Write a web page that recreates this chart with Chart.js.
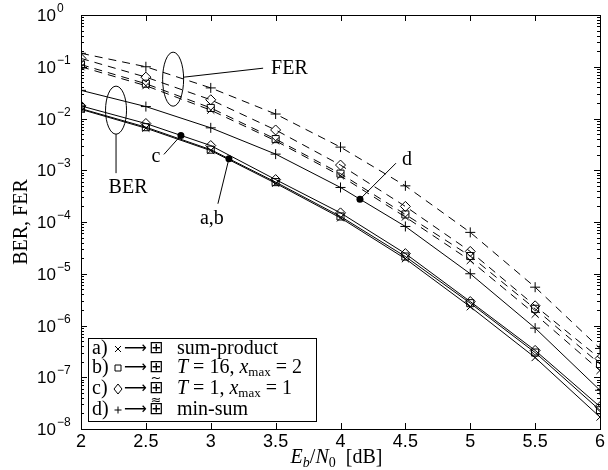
<!DOCTYPE html>
<html>
<head>
<meta charset="utf-8">
<script src="https://cdn.jsdelivr.net/npm/chart.js@4.4.1/dist/chart.umd.min.js"></script>
<style>
  html, body { margin: 0; padding: 0; background: #fff; }
  #wrap { width: 608px; height: 470px; }
</style>
</head>
<body>
<div id="wrap"><canvas id="chart" width="608" height="470"></canvas></div>
<script>
// Eb/N0 in dB
const ebn0 = [2, 2.5, 3, 3.5, 4, 4.5, 5, 5.5, 6];

// BER curves (solid)
const berA = [0.0150, 0.0065, 0.0024, 5.6e-4, 1.2e-4, 1.95e-5, 2.3e-6, 2.4e-7, 1.7e-8];
const berB = [0.0155, 0.0068, 0.0025, 5.9e-4, 1.28e-4, 2.15e-5, 2.7e-6, 3.0e-7, 2.3e-8];
const berC = [0.0175, 0.0080, 0.0030, 6.6e-4, 1.5e-4, 2.45e-5, 2.9e-6, 3.3e-7, 2.7e-8];
const berD = [0.0350, 0.0170, 0.0066, 2.05e-3, 4.65e-4, 8.2e-5, 1.0e-5, 8.9e-7, 5.6e-8];

// FER curves (dashed)
const ferA = [0.100, 0.043, 0.0145, 3.7e-3, 7.8e-4, 1.25e-4, 1.8e-5, 1.65e-6, 1.35e-7];
const ferB = [0.110, 0.047, 0.0160, 4.0e-3, 8.6e-4, 1.4e-4, 2.2e-5, 2.1e-6, 1.8e-7];
const ferC = [0.145, 0.063, 0.0230, 6.0e-3, 1.26e-3, 2.0e-4, 2.7e-5, 2.4e-6, 2.3e-7];
const ferD = [0.182, 0.100, 0.0390, 1.22e-2, 2.8e-3, 5.0e-4, 6.3e-5, 5.5e-6, 3.6e-7];

// y tick labels are 10^e
const yExponents = [0, -1, -2, -3, -4, -5, -6, -7, -8];

const legendLabels = ['a)', 'b)', 'c)', 'd)'];

function pts(arr) {
  return ebn0.map((x, i) => ({ x: x, y: arr[i] }));
}

function series(arr, style, dashed) {
  return {
    data: pts(arr),
    borderColor: '#000',
    borderWidth: 1,
    borderDash: dashed ? [8, 6] : [],
    pointStyle: style,
    pointRadius: 5,
    pointBorderColor: '#000',
    pointBorderWidth: 1,
    pointBackgroundColor: 'rgba(0,0,0,0)',
    fill: false,
    tension: 0
  };
}

// rich text: list of [text, font, dy]
function richWidth(ctx, parts) {
  let w = 0;
  parts.forEach(p => { ctx.font = p[1]; w += ctx.measureText(p[0]).width; });
  return w;
}
function drawRich(ctx, parts, x, y, align) {
  let cx = align === 'center' ? x - richWidth(ctx, parts) / 2 : x;
  ctx.textAlign = 'left';
  ctx.textBaseline = 'middle';
  parts.forEach(p => {
    ctx.font = p[1];
    ctx.fillText(p[0], cx, y + (p[2] || 0));
    cx += ctx.measureText(p[0]).width;
  });
}

// pixel on a drawn curve at a given x (linear between drawn points)
function curvePixel(chart, dsIndex, xv) {
  const meta = chart.getDatasetMeta(dsIndex);
  const px = chart.scales.x.getPixelForValue(xv);
  for (let j = 0; j < meta.data.length - 1; j++) {
    const p0 = meta.data[j], p1 = meta.data[j + 1];
    if (px >= p0.x && px <= p1.x) {
      const t = (px - p0.x) / (p1.x - p0.x);
      return { x: px, y: p0.y + t * (p1.y - p0.y) };
    }
  }
  return { x: px, y: meta.data[0].y };
}

const serif = 'Liberation Serif';
const sans = 'Liberation Sans';

const decor = {
  id: 'decor',
  afterDraw(chart) {
    const ctx = chart.ctx;
    const a = chart.chartArea;
    const xs = chart.scales.x, ys = chart.scales.y;
    ctx.save();
    ctx.strokeStyle = '#000';
    ctx.fillStyle = '#000';
    ctx.lineWidth = 1;

    // box
    ctx.strokeRect(a.left + 0.5, a.top + 0.5, a.right - a.left, a.bottom - a.top);

    // x ticks, inward top and bottom
    ebn0.forEach(v => {
      const px = Math.round(xs.getPixelForValue(v)) + 0.5;
      ctx.beginPath();
      ctx.moveTo(px, a.bottom); ctx.lineTo(px, a.bottom - 6);
      ctx.moveTo(px, a.top); ctx.lineTo(px, a.top + 6);
      ctx.stroke();
    });

    // y ticks, major and minor, both sides
    yExponents.forEach(e => {
      const py = Math.round(ys.getPixelForValue(Math.pow(10, e))) + 0.5;
      ctx.beginPath();
      ctx.moveTo(a.left, py); ctx.lineTo(a.left + 6, py);
      ctx.moveTo(a.right, py); ctx.lineTo(a.right - 6, py);
      ctx.stroke();
      if (e < 0) {
        for (let k = 2; k <= 9; k++) {
          const my = Math.round(ys.getPixelForValue(k * Math.pow(10, e))) + 0.5;
          ctx.beginPath();
          ctx.moveTo(a.left, my); ctx.lineTo(a.left + 3, my);
          ctx.moveTo(a.right, my); ctx.lineTo(a.right - 3, my);
          ctx.stroke();
        }
      }
      // label 10^e
      ctx.textAlign = 'left';
      ctx.textBaseline = 'middle';
      ctx.font = '17px ' + sans;
      ctx.fillText('10', 37, py + 1);
      const w = ctx.measureText('10').width;
      ctx.font = '12px ' + sans;
      ctx.fillText(e === 0 ? '0' : '\u2212' + (-e), 37 + w + 1, py - 7);
    });

    // axis titles
    ctx.save();
    ctx.translate(22, (a.top + a.bottom) / 2);
    ctx.rotate(-Math.PI / 2);
    ctx.textAlign = 'center';
    ctx.textBaseline = 'middle';
    ctx.font = '20px ' + serif;
    ctx.fillText('BER, FER', 0, 0);
    ctx.restore();

    drawRich(ctx, [
      ['E', 'italic 20px ' + serif, 0],
      ['b', 'italic 14px ' + serif, 5],
      ['/', '20px ' + serif, 0],
      ['N', 'italic 20px ' + serif, 0],
      ['0', '14px ' + serif, 5],
      ['  [dB]', '20px ' + serif, 0]
    ], (a.left + a.right) / 2 - 4, 458, 'center');

    // ellipses grouping FER and BER curves
    const fe = { x: xs.getPixelForValue(2.71), y: ys.getPixelForValue(0.0575) };
    ctx.beginPath();
    ctx.ellipse(fe.x, fe.y, 10.5, 27, 0, 0, 2 * Math.PI);
    ctx.stroke();
    ctx.beginPath();
    ctx.moveTo(fe.x + 10.5, fe.y - 2);
    ctx.lineTo(fe.x + 90, fe.y - 11);
    ctx.stroke();
    drawRich(ctx, [['FER', '20px ' + serif, 0]], fe.x + 98, fe.y - 10, 'left');

    const be = { x: xs.getPixelForValue(2.27), y: ys.getPixelForValue(0.0145) };
    ctx.beginPath();
    ctx.ellipse(be.x, be.y, 10.5, 24, 0, 0, 2 * Math.PI);
    ctx.stroke();
    ctx.beginPath();
    ctx.moveTo(be.x, be.y + 24);
    ctx.lineTo(be.x, be.y + 63);
    ctx.stroke();
    drawRich(ctx, [['BER', '20px ' + serif, 0]], be.x + 12, be.y + 78, 'center');

    // marked points with labels
    const dotC = curvePixel(chart, 2, 2.77);
    const dotAB = curvePixel(chart, 1, 3.14);
    const dotD = curvePixel(chart, 3, 4.15);
    [dotC, dotAB, dotD].forEach(p => {
      ctx.beginPath();
      ctx.arc(p.x, p.y, 3.5, 0, 2 * Math.PI);
      ctx.fill();
    });
    ctx.beginPath();
    ctx.moveTo(dotC.x, dotC.y); ctx.lineTo(dotC.x - 17, dotC.y + 19);
    ctx.moveTo(dotAB.x, dotAB.y); ctx.lineTo(dotAB.x - 11, dotAB.y + 45);
    ctx.moveTo(dotD.x, dotD.y); ctx.lineTo(dotD.x + 36, dotD.y - 36);
    ctx.stroke();
    drawRich(ctx, [['c', '20px ' + serif, 0]], dotC.x - 25, dotC.y + 21, 'center');
    drawRich(ctx, [['a,b', '20px ' + serif, 0]], dotAB.x - 17, dotAB.y + 60, 'center');
    drawRich(ctx, [['d', '20px ' + serif, 0]], dotD.x + 47, dotD.y - 39, 'center');

    // legend
    const lx = 88, ltop = 338, lw = 228, lh = 83;
    ctx.fillStyle = '#fff';
    ctx.fillRect(lx, ltop, lw, lh);
    ctx.fillStyle = '#000';
    ctx.strokeRect(lx + 0.5, ltop + 0.5, lw, lh);
    const rowY = [349, 368, 389, 410];
    const marks = ['x', 'sq', 'di', 'plus'];
    const texts = [
      [['sum-product', '20px ' + serif, 0]],
      [['T', 'italic 20px ' + serif, 0], [' = 16, ', '20px ' + serif, 0], ['x', 'italic 20px ' + serif, 0],
       ['max', '13px ' + serif, 5], [' = 2', '20px ' + serif, 0]],
      [['T', 'italic 20px ' + serif, 0], [' = 1, ', '20px ' + serif, 0], ['x', 'italic 20px ' + serif, 0],
       ['max', '13px ' + serif, 5], [' = 1', '20px ' + serif, 0]],
      [['min-sum', '20px ' + serif, 0]]
    ];
    rowY.forEach((ry, i) => {
      drawRich(ctx, [[legendLabels[i], '20px ' + serif, 0]], 92, ry, 'left');
      const mx = 118;
      ctx.beginPath();
      if (marks[i] === 'x') {
        ctx.moveTo(mx - 3, ry - 3); ctx.lineTo(mx + 3, ry + 3);
        ctx.moveTo(mx + 3, ry - 3); ctx.lineTo(mx - 3, ry + 3);
      } else if (marks[i] === 'sq') {
        ctx.rect(mx - 3, ry - 3, 6, 6);
      } else if (marks[i] === 'di') {
        ctx.moveTo(mx, ry - 5); ctx.lineTo(mx + 4, ry); ctx.lineTo(mx, ry + 5); ctx.lineTo(mx - 4, ry); ctx.closePath();
      } else {
        ctx.moveTo(mx - 3.5, ry); ctx.lineTo(mx + 3.5, ry);
        ctx.moveTo(mx, ry - 3.5); ctx.lineTo(mx, ry + 3.5);
      }
      ctx.stroke();
      drawRich(ctx, [['\u27F6', '16px DejaVu Sans', 0]], 124, ry, 'left');
      drawRich(ctx, [['\u229E', '17px DejaVu Sans', 0]], 156, ry, 'center');
      if (i === 1) drawRich(ctx, [['~', '13px DejaVu Sans', 0]], 156, ry + 11, 'center');
      if (i === 2) drawRich(ctx, [['\u2248', '13px DejaVu Sans', 0]], 156, ry + 12, 'center');
      drawRich(ctx, texts[i], 177, ry, 'left');
    });

    ctx.restore();
  }
};

new Chart(document.getElementById('chart'), {
  type: 'line',
  data: {
    datasets: [
      series(berA, 'crossRot', false),
      series(berB, 'rect', false),
      series(berC, 'rectRot', false),
      series(berD, 'cross', false),
      series(ferA, 'crossRot', true),
      series(ferB, 'rect', true),
      series(ferC, 'rectRot', true),
      series(ferD, 'cross', true)
    ]
  },
  options: {
    responsive: false,
    animation: false,
    devicePixelRatio: 1,
    layout: { padding: { top: 15, right: 8, left: 0, bottom: 0 } },
    plugins: { legend: { display: false }, tooltip: { enabled: false } },
    scales: {
      x: {
        type: 'linear',
        min: 2,
        max: 6,
        afterFit: s => { s.height = 41; },
        grid: { display: false, drawTicks: false },
        border: { display: false },
        ticks: {
          stepSize: 0.5,
          autoSkip: false,
          maxRotation: 0,
          padding: 2,
          color: '#000',
          font: { family: sans, size: 18 },
          callback: v => String(Number(v))
        }
      },
      y: {
        type: 'logarithmic',
        min: 1e-8,
        max: 1,
        afterFit: s => { s.width = 81; },
        grid: { display: false, drawTicks: false },
        border: { display: false },
        ticks: { display: false }
      }
    }
  },
  plugins: [decor]
});
</script>
</body>
</html>
